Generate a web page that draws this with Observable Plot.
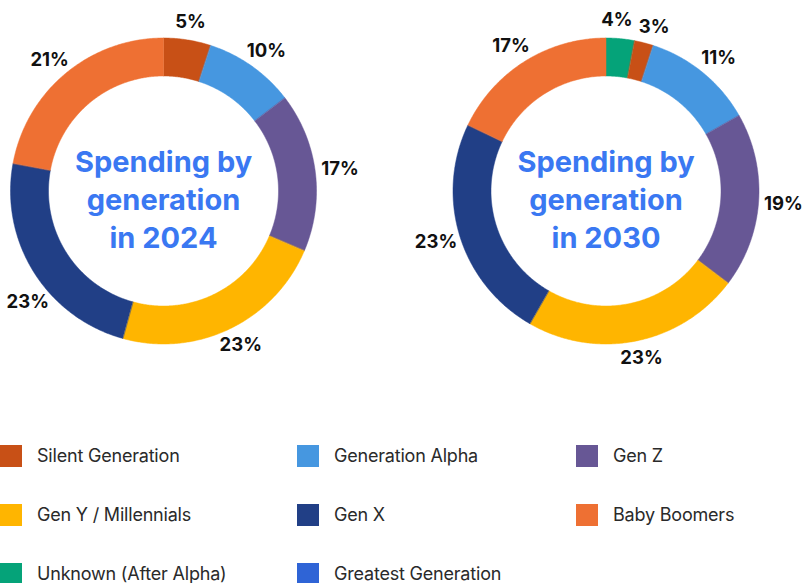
<!DOCTYPE html>
<html><head><meta charset="utf-8">
<script src="https://cdn.jsdelivr.net/npm/d3@7"></script>
<script src="https://cdn.jsdelivr.net/npm/@observablehq/plot@0.6"></script>
<style>
body{margin:0;background:#fff;font-family:Inter,"Noto Sans",sans-serif;}
#chart svg{display:block;}
#legend{display:grid;grid-template-columns:297px 279px 227px;grid-auto-rows:59px;}
.item{display:flex;align-items:center;font-size:18px;color:#2a2a2a;letter-spacing:-0.2px;}
.sw{width:22px;height:22px;margin-right:15px;flex:none;}
</style></head><body>
<div id="chart"></div><div id="legend"></div>
<script>
// Categories and colours (legend order)
const generations = ["Silent Generation","Generation Alpha","Gen Z","Gen Y / Millennials","Gen X","Baby Boomers","Unknown (After Alpha)","Greatest Generation"];
const colors = ["#C85016","#4697E0","#675795","#FFB500","#213F86","#EE7033","#05A379","#2F64D6"];

// 2024 — clockwise from 12 o'clock
const order2024 = ["Silent Generation","Generation Alpha","Gen Z","Gen Y / Millennials","Gen X","Baby Boomers"];
const share2024 = [5.0, 9.6, 16.8, 22.9, 23.6, 22.1];
const labels2024 = ["5%","10%","17%","23%","23%","21%"];

// 2030 — clockwise from 12 o'clock
const order2030 = ["Unknown (After Alpha)","Silent Generation","Generation Alpha","Gen Z","Gen Y / Millennials","Gen X","Baby Boomers"];
const share2030 = [3.0, 2.0, 11.8, 18.5, 23.0, 23.8, 17.9];
const labels2030 = ["4%","3%","11%","19%","23%","23%","17%"];

const centerTitles = ["Spending by\ngeneration\nin 2024", "Spending by\ngeneration\nin 2030"];

// layout
const W = 803, H = 426;
const R = 153, r = 115, L = 158;
const centers = [{cx:163, cy:190.5}, {cx:605.5, cy:190.5}];
const DEG = Math.PI / 180;

const poly = [], labs = [], titles = [];
function build(order, share, labels, c, id) {
  const total = d3.sum(share);
  let acc = 0;
  const ls = [];
  order.forEach((g, i) => {
    const a0 = acc / total * 2 * Math.PI; acc += share[i];
    const a1 = acc / total * 2 * Math.PI;
    const n = Math.max(2, Math.ceil((a1 - a0) / (Math.PI / 360)));
    for (let k = 0; k <= n; k++) { const a = a0 + (a1 - a0) * k / n; poly.push({key: id + "-" + i, gen: g, x: c.cx + R * Math.sin(a), y: c.cy - R * Math.cos(a)}); }
    for (let k = n; k >= 0; k--) { const a = a0 + (a1 - a0) * k / n; poly.push({key: id + "-" + i, gen: g, x: c.cx + r * Math.sin(a), y: c.cy - r * Math.cos(a)}); }
    ls.push({text: labels[i], a: (a0 + a1) / 2, w: 10 + labels[i].length * 10, h: 26});
  });
  const pos = (l) => ({x: c.cx + Math.sin(l.a) * (L + l.w / 2), y: c.cy - Math.cos(l.a) * (L + l.h / 2)});
  // spread overlapping neighbours along the ring
  for (let it = 0; it < 300; it++) {
    let moved = false;
    for (let i = 0; i + 1 < ls.length; i++) {
      const p = pos(ls[i]), q = pos(ls[i + 1]);
      if (Math.abs(p.x - q.x) < (ls[i].w + ls[i + 1].w) / 2 + 6 && Math.abs(p.y - q.y) < 18) {
        ls[i].a -= 0.25 * DEG; ls[i + 1].a += 0.25 * DEG; moved = true;
      }
    }
    if (!moved) break;
  }
  // keep labels inside the frame by sliding them along the ring
  ls.forEach(l => {
    for (let it = 0; it < 200; it++) {
      const p = pos(l);
      if (p.x - l.w / 2 >= 7 && p.x + l.w / 2 <= W) break;
      const a = ((l.a % (2 * Math.PI)) + 2 * Math.PI) % (2 * Math.PI);
      const toward = (a < Math.PI / 2) ? -1 : (a < Math.PI) ? 1 : (a < 1.5 * Math.PI) ? -1 : 1;
      l.a = a + toward * 0.25 * DEG;
    }
    const p = pos(l);
    labs.push({text: l.text, x: p.x, y: p.y});
  });
}
build(order2024, share2024, labels2024, centers[0], "a");
build(order2030, share2030, labels2030, centers[1], "b");
centerTitles.forEach((t, i) => titles.push({text: t, x: centers[i].cx, y: centers[i].cy + 7}));

const chart = Plot.plot({
  width: W, height: H, margin: 0,
  x: {domain: [0, W], axis: null},
  y: {domain: [0, H], range: [0, H], axis: null},
  color: {domain: generations, range: colors},
  style: {fontFamily: "Inter, sans-serif", background: "white"},
  marks: [
    Plot.line(poly, {x: "x", y: "y", z: "key", fill: "gen", stroke: "gen", strokeWidth: 0.5, curve: "linear-closed"}),
    Plot.text(labs, {x: "x", y: "y", text: "text", fontSize: 18.5, fontWeight: 700, fill: "#111"}),
    Plot.text(titles, {x: "x", y: "y", text: "text", fontSize: 29, fontWeight: 700, fill: "#3a78f2", lineHeight: 1.31})
  ]
});
document.getElementById("chart").appendChild(chart);

const legend = document.getElementById("legend");
generations.forEach((g, i) => {
  const d = document.createElement("div"); d.className = "item";
  const s = document.createElement("span"); s.className = "sw"; s.style.background = colors[i];
  d.appendChild(s); d.appendChild(document.createTextNode(g));
  legend.appendChild(d);
});
</script>
</body></html>
